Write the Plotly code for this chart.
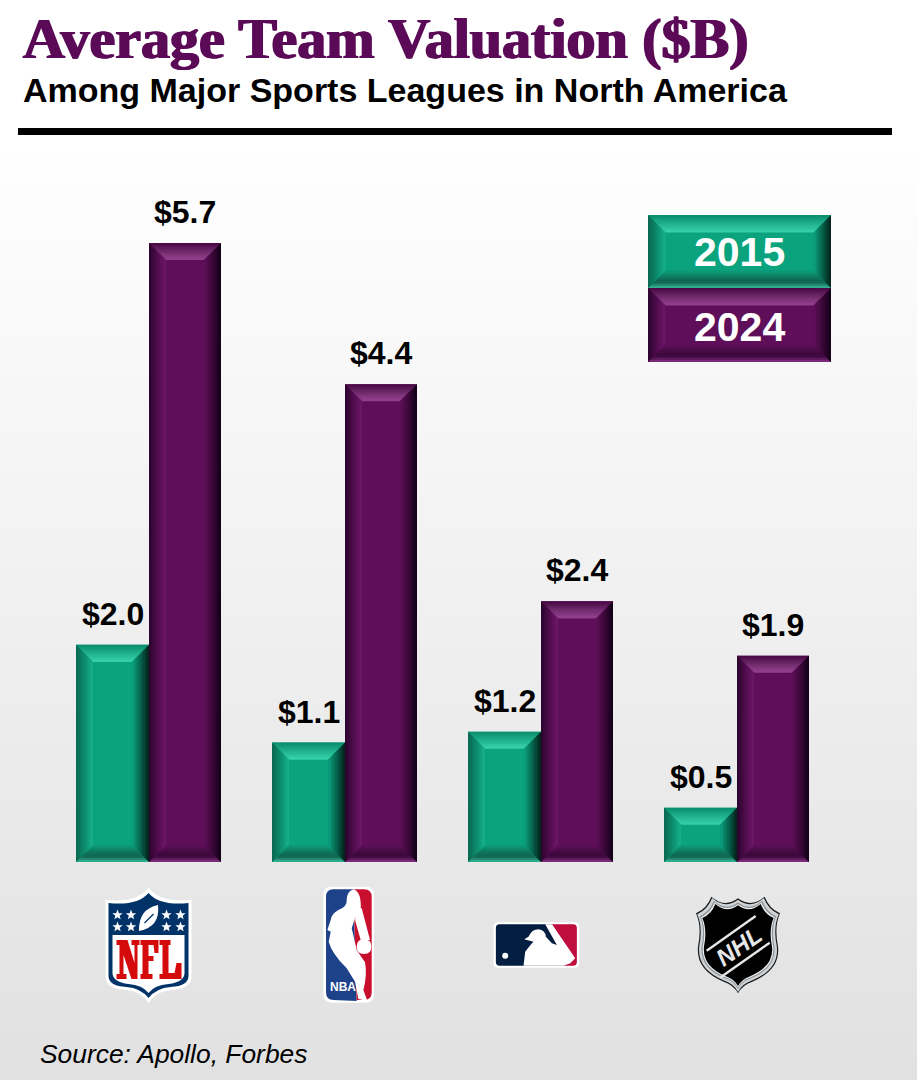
import math
import re

import plotly.graph_objects as go

W, H = 917, 1080

TITLE = "Average Team Valuation ($B)"
SUBTITLE = "Among Major Sports Leagues in North America"
SOURCE = "Source: Apollo, Forbes"
LEAGUES = ["NFL", "NBA", "MLB", "NHL"]
YEARS = ["2015", "2024"]
VALUES_2015 = [2.0, 1.1, 1.2, 0.5]
VALUES_2024 = [5.7, 4.4, 2.4, 1.9]

GREEN = dict(
    base="#0ba37d",
    top=["#0c8f6f", "#1fb08c", "#35cfa6"],
    left=["#0a6a53", "#0c8a6b", "#14ad87"],
    right=["#03261e", "#066049", "#0b9a77"],
    bottom=["#2faa8c", "#0e5f4c", "#0f7a60", "#0b9876"],
)
PURPLE = dict(
    base="#5f0f5a",
    top=["#4a0b47", "#6f2a6b", "#8f3f8a"],
    left=["#2e0530", "#4f0c4c", "#6a1565"],
    right=["#140218", "#3a0838", "#5a0e55"],
    bottom=["#7a2a78", "#37083a", "#470c44", "#5a0e55"],
)

# plot area in page pixels
PLOT_LEFT, PLOT_RIGHT = 50, 834
BASE_Y = 862
Y_MAX = 6.5
PX_PER_UNIT = 108.6
GROUP_PX = (PLOT_RIGHT - PLOT_LEFT) / 4


def page_x(px):
    return px / W


def page_y(px):
    return 1 - px / H


def lerp_color(stops, t):
    pos = t * (len(stops) - 1)
    i = min(int(pos), len(stops) - 2)
    f = pos - i
    a = [int(stops[i][k:k + 2], 16) for k in (1, 3, 5)]
    b = [int(stops[i + 1][k:k + 2], 16) for k in (1, 3, 5)]
    return "rgb(%d,%d,%d)" % tuple(round(a[k] + (b[k] - a[k]) * f) for k in range(3))


def bevel(anchor, w, h, palette, band=16.5, steps=8):
    """Bevel strips for a box, in pixels around its bottom-centre anchor."""
    out = []
    hw = w / 2
    for k in range(steps):
        a = band * k / steps
        b = band * (k + 1) / steps + 0.6
        t = k / (steps - 1)
        sides = {
            "top": [(-hw + a, h - a), (hw - a, h - a), (hw - b, h - b), (-hw + b, h - b)],
            "bottom": [(-hw + a, a), (hw - a, a), (hw - b, b), (-hw + b, b)],
            "left": [(-hw + a, a), (-hw + a, h - a), (-hw + b, h - b), (-hw + b, b)],
            "right": [(hw - a, a), (hw - a, h - a), (hw - b, h - b), (hw - b, b)],
        }
        for side, pts in sides.items():
            path = "M" + " L".join(f"{x:.2f},{y:.2f}" for x, y in pts) + " Z"
            out.append(dict(type="path", path=path, xsizemode="pixel", ysizemode="pixel",
                            fillcolor=lerp_color(palette[side], t), line_width=0,
                            layer="above", **anchor))
    return out


def flip(path, scale=1.0, cx=0.0, cy=0.0):
    """Image style path (y down) to pixels around (cx, cy) with y up."""
    def repl(m):
        x, y = float(m.group(1)), float(m.group(2))
        return f"{(x - cx) * scale:.2f},{-(y - cy) * scale:.2f}"
    return re.sub(r"(-?[\d.]+),(-?[\d.]+)", repl, path)


def star(cx, cy, r=5.4):
    pts = []
    for i in range(10):
        rad = r if i % 2 == 0 else r * 0.42
        ang = math.pi * i / 5 - math.pi / 2
        pts.append(f"{cx + rad * math.cos(ang):.2f},{cy + rad * math.sin(ang):.2f}")
    return "M" + " L".join(pts) + " Z"


def circle(cx, cy, r):
    return (f"M{cx - r},{cy} Q{cx - r},{cy - r} {cx},{cy - r} Q{cx + r},{cy - r} {cx + r},{cy} "
            f"Q{cx + r},{cy + r} {cx},{cy + r} Q{cx - r},{cy + r} {cx - r},{cy} Z")


def logo_shape(idx, dx, cy, path, fill, line=None, lw=0):
    return dict(type="path", path=path, xref="x", yref="paper", xsizemode="pixel", ysizemode="pixel",
                xanchor=idx + dx / GROUP_PX, yanchor=page_y(cy), fillcolor=fill,
                line=dict(color=line or fill, width=lw), layer="above")


def nfl_logo(idx):
    cy, dx = 945, 0.5
    shield = "M0,-58 Q-10,-42 -43,-45 L-43,32 Q-43,44 -22,45 Q-8,46 0,58 Q8,46 22,45 Q43,44 43,32 L43,-45 Q10,-42 0,-58 Z"
    navy = "M0,-52 Q-11,-39 -40,-42 L-40,31 Q-40,41 -22,42 Q-8,43 0,53 Q8,43 22,42 Q40,41 40,31 L40,-42 Q11,-39 0,-52 Z"
    panel = "M-36,-10 L36,-10 L36,28 Q36,37 20,39 Q6,40 0,48 Q-6,40 -20,39 Q-36,37 -36,28 Z"
    ball = "M-9.5,-14 Q-10,-36 9.5,-40 Q12,-18 -9.5,-14 Z"
    lace = "M-4,-22 L5,-31"
    n = ("M-32,-5 L-21,-5 L-14,18 L-14,0 L-17,0 L-17,-5 L-9,-5 L-9,0 L-11,0 L-11,34 L-17,34 L-25,10 "
         "L-25,29 L-22,29 L-22,34 L-32,34 L-32,29 L-29,29 L-29,0 L-32,0 Z")
    f = ("M-8,-5 L10,-5 L10,8 L6,8 L5,0 L0,0 L0,11 L5,11 L5,16 L0,16 L0,29 L4,29 L4,34 L-8,34 "
         "L-8,29 L-6,29 L-6,0 L-8,0 Z")
    l = "M11,-5 L22,-5 L22,0 L20,0 L20,28 L26,28 L28,18 L33,18 L33,34 L11,34 L11,29 L14,29 L14,0 L11,0 Z"
    out = [logo_shape(idx, dx, cy, flip(shield), "#ffffff"),
           logo_shape(idx, dx, cy, flip(navy), "#013369"),
           logo_shape(idx, dx, cy, flip(panel), "#ffffff"),
           logo_shape(idx, dx, cy, flip(ball), "#ffffff"),
           logo_shape(idx, dx, cy, flip(lace), "rgba(0,0,0,0)", "#013369", 1.2)]
    for sx in (-31, -17.5, 18, 32):
        for sy in (-30, -18):
            out.append(logo_shape(idx, dx, cy, flip(star(sx, sy)), "#ffffff"))
    for glyph in (n, f, l):
        out.append(logo_shape(idx, dx, cy, flip(glyph), "#d50a0a"))
    return out


def nba_logo(idx):
    cy, dx = 944.7, 4.7
    c = dict(scale=1 / 3, cx=776, cy=209)
    outer = "M725,35 L827,35 Q852,35 852,60 L852,358 Q852,383 827,383 L725,383 Q700,383 700,358 L700,60 Q700,35 725,35 Z"
    blue = "M730,43 L790,43 L800,378 L730,375 Q708,375 708,352 L708,66 Q708,43 730,43 Z"
    red = "M790,43 L822,43 Q845,43 845,66 L845,352 Q845,375 822,375 L800,375 Z"
    body = ("M790,43 Q770,50 770,75 Q772,95 745,105 Q725,115 722,135 L712,165 L722,170 L716,200 "
            "Q725,235 770,280 L795,320 L805,372 L832,378 L820,345 Q832,300 825,262 Q810,240 800,225 "
            "L785,160 L795,130 L812,105 Q815,50 790,43 Z")
    arm = "M800,100 L815,100 L840,195 L812,195 L795,135 Z"
    return [logo_shape(idx, dx, cy, flip(outer, **c), "#ffffff"),
            logo_shape(idx, dx, cy, flip(blue, **c), "#1d428a"),
            logo_shape(idx, dx, cy, flip(red, **c), "#c8102e"),
            logo_shape(idx, dx, cy, flip(body, **c), "#ffffff"),
            logo_shape(idx, dx, cy, flip(arm, **c), "#ffffff"),
            logo_shape(idx, dx, cy, flip(circle(822, 215, 22), **c), "#ffffff")]


def mlb_logo(idx):
    cy, dx = 945, -3.8
    c = dict(scale=1 / 3, cx=168, cy=195)
    outer = "M55,127 L282,127 Q297,127 297,142 L297,248 Q297,263 282,263 L55,263 Q40,263 40,248 L40,142 Q40,127 55,127 Z"
    navy = "M58,133 L215,133 L250,257 L58,257 Q47,257 47,246 L47,144 Q47,133 58,133 Z"
    red = "M215,133 L279,133 Q290,133 290,144 L290,246 Q290,257 279,257 L248,257 L283,235 Z"
    batter = ("M195,133 L215,133 L285,235 L270,250 L250,257 L130,257 L135,215 Q150,195 160,185 L132,178 "
              "L145,170 Q155,148 175,148 Q195,150 197,170 L215,190 L230,195 Z")
    return [logo_shape(idx, dx, cy, flip(outer, **c), "#ffffff"),
            logo_shape(idx, dx, cy, flip(navy, **c), "#041e42"),
            logo_shape(idx, dx, cy, flip(red, **c), "#bf0d3e"),
            logo_shape(idx, dx, cy, flip(batter, **c), "#ffffff"),
            logo_shape(idx, dx, cy, flip(circle(75, 227, 9), **c), "#ffffff")]


def nhl_logo(idx):
    cy, dx = 945, 2
    shape = ("M697,50 Q737,85 777,55 Q817,85 857,50 Q870,85 903,100 Q885,140 897,200 Q905,270 820,305 "
             "Q790,315 777,340 Q764,315 734,305 Q650,270 657,200 Q669,140 651,100 Q684,85 697,50 Z")
    out = []
    for scale, fill in ((1.0, "#1a1a1a"), (0.97, "#cfd3d6"), (0.91, "#8d9296"), (0.88, "#eceded"), (0.85, "#000000")):
        out.append(logo_shape(idx, dx, cy, flip(shape, scale=scale / 3, cx=777, cy=195), fill))
    c = dict(scale=1 / 3, cx=777, cy=195)
    out.append(logo_shape(idx, dx, cy, flip("M683,212 L830,108 M725,292 L872,188", **c),
                          "rgba(0,0,0,0)", "#e4e6e7", 2.4))
    return out


fig = go.Figure()
x_groups = list(range(len(LEAGUES)))
# left edge and width of each series' bar, relative to the group centre
series = (
    (YEARS[0], VALUES_2015, GREEN, -72 / GROUP_PX, 73),
    (YEARS[1], VALUES_2024, PURPLE, 1 / GROUP_PX, 72),
)
for name, vals, pal, offset, bar_px in series:
    fig.add_trace(go.Bar(x=x_groups, y=vals, name=name, width=bar_px / GROUP_PX, offset=offset,
                         marker=dict(color=pal["base"], line_width=0),
                         hovertext=LEAGUES, showlegend=False))

shapes = []
# page background fade
BG_STEPS = 90
for k in range(BG_STEPS):
    y0 = 130 + (H - 130) * k / BG_STEPS
    y1 = 130 + (H - 130) * (k + 1) / BG_STEPS + 1
    shapes.append(dict(type="rect", xref="paper", yref="paper", x0=0, x1=1, y0=page_y(y0), y1=page_y(y1),
                       fillcolor=lerp_color(["#ffffff", "#e1e1e1"], k / (BG_STEPS - 1)),
                       line_width=0, layer="below"))

# rule under the heading
shapes.append(dict(type="rect", xref="paper", yref="paper", x0=page_x(18), x1=page_x(892),
                   y0=page_y(135), y1=page_y(128), fillcolor="#000000", line_width=0, layer="above"))

for name, vals, pal, offset, bar_px in series:
    for i, v in zip(x_groups, vals):
        anchor = dict(xref="x", yref="y", xanchor=i + offset + bar_px / GROUP_PX / 2, yanchor=0)
        shapes += bevel(anchor, bar_px, v * PX_PER_UNIT, pal)

# legend boxes
for cy_bottom, box_h, pal in ((288, 73, GREEN), (362, 74, PURPLE)):
    anchor = dict(xref="paper", yref="paper", xanchor=page_x(739.5), yanchor=page_y(cy_bottom))
    shapes.append(dict(type="rect", xref="paper", yref="paper", x0=page_x(648), x1=page_x(831),
                       y0=page_y(cy_bottom), y1=page_y(cy_bottom - box_h),
                       fillcolor=pal["base"], line_width=0, layer="above"))
    shapes += bevel(anchor, 183, box_h, pal, band=17)

shapes += nfl_logo(0) + nba_logo(1) + mlb_logo(2) + nhl_logo(3)

annotations = [
    dict(text=TITLE, xref="paper", yref="paper", x=page_x(21), y=page_y(38), xanchor="left", yanchor="middle",
         showarrow=False, font=dict(family="Liberation Serif", size=58, color="#5b0a57", weight="bold",
                                    shadow="1px 0 0 #5b0a57, -1px 0 0 #5b0a57")),
    dict(text=SUBTITLE, xref="paper", yref="paper", x=page_x(21), y=page_y(90), xanchor="left", yanchor="middle",
         showarrow=False, font=dict(family="Liberation Sans", size=34, color="#000000", weight="bold")),
    dict(text=SOURCE, xref="paper", yref="paper", x=page_x(38), y=page_y(1054), xanchor="left", yanchor="middle",
         showarrow=False, font=dict(family="Liberation Sans", size=26.4, color="#000000", style="italic")),
    dict(text=YEARS[0], xref="paper", yref="paper", x=page_x(739), y=page_y(252), xanchor="center", yanchor="middle",
         showarrow=False, font=dict(family="Liberation Sans", size=41, color="#ffffff", weight="bold")),
    dict(text=YEARS[1], xref="paper", yref="paper", x=page_x(739), y=page_y(327), xanchor="center", yanchor="middle",
         showarrow=False, font=dict(family="Liberation Sans", size=41, color="#ffffff", weight="bold")),
    # lettering inside the logos
    dict(text="NBA", xref="x", yref="paper", x=1 - 1 / GROUP_PX, y=page_y(987), xanchor="center", yanchor="middle",
         showarrow=False, font=dict(family="Liberation Sans", size=12, color="#ffffff", weight="bold")),
    dict(text="NHL", xref="x", yref="paper", x=3 + 2 / GROUP_PX, y=page_y(946), xanchor="center", yanchor="middle",
         showarrow=False, textangle=-35,
         font=dict(family="Liberation Sans", size=24, color="#e6e7e8", weight="bold", style="italic")),
]
for name, vals, pal, offset, bar_px in series:
    for i, v in zip(x_groups, vals):
        annotations.append(dict(text=f"${v:.1f}", xref="x", yref="y", x=i + offset + bar_px / GROUP_PX / 2, y=v,
                                xanchor="center", yanchor="bottom", yshift=11, showarrow=False,
                                font=dict(family="Liberation Sans", size=32, color="#000000", weight="bold")))

fig.update_layout(
    width=W, height=H,
    margin=dict(l=0, r=0, t=0, b=0),
    paper_bgcolor="#ffffff",
    plot_bgcolor="rgba(0,0,0,0)",
    barmode="overlay",
    shapes=shapes, annotations=annotations,
    xaxis=dict(domain=[page_x(PLOT_LEFT), page_x(PLOT_RIGHT)], range=[-0.5, 3.5],
               tickvals=x_groups, ticktext=LEAGUES, showticklabels=False,
               showgrid=False, zeroline=False, showline=False, ticks=""),
    yaxis=dict(domain=[page_y(BASE_Y), page_y(BASE_Y - Y_MAX * PX_PER_UNIT)], range=[0, Y_MAX],
               showticklabels=False, showgrid=False, zeroline=False, showline=False, ticks=""),
)

fig.write_html("out.html", config=dict(displayModeBar=False),
               post_script="document.body.style.margin='0';")
